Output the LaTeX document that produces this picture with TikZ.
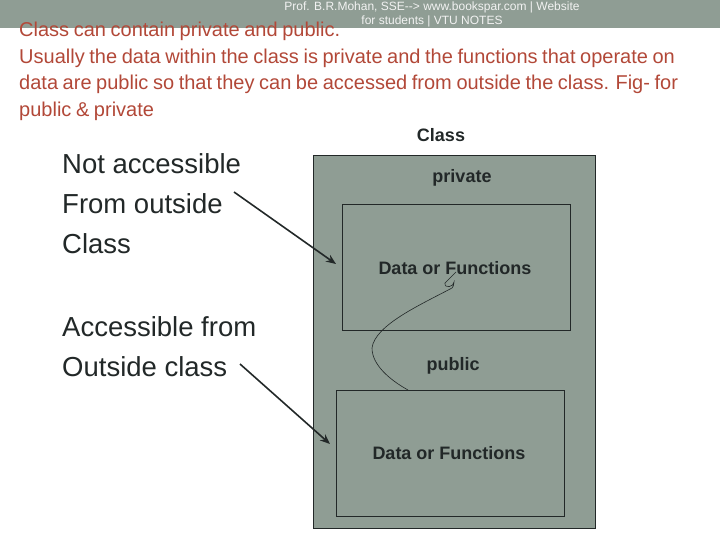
\documentclass[tikz,border=0pt]{standalone}
\usepackage{fontspec}
\setmainfont{Liberation Sans}
\usetikzlibrary{arrows.meta}
\definecolor{sage}{RGB}{143,157,148}
\definecolor{redtext}{RGB}{178,72,56}
\definecolor{ink}{RGB}{34,40,40}
\newcommand{\tightspacing}{\spaceskip=4.6pt\relax}
\tikzset{
  redline/.style={anchor=base west, inner sep=0pt, text=redtext, font=\fontsize{20}{24}\selectfont},
  leftline/.style={anchor=base west, inner sep=0pt, text=ink, font=\fontsize{27.5}{30}\selectfont},
  boldlabel/.style={anchor=base, inner sep=0pt, text=ink, font=\fontsize{18}{22}\selectfont\bfseries},
  banner/.style={anchor=base, inner sep=0pt, text=white!95!black, font=\fontsize{12}{13}\selectfont},
  box/.style={draw=ink, line width=1pt, fill=sage},
  pointer/.style={draw=ink, line width=1.6pt, -{Stealth[length=10pt,width=8pt]}}
}
\begin{document}
\begin{tikzpicture}[x=1pt,y=-1pt]
\useasboundingbox (0,0) rectangle (720,540);
\fill[sage] (0,0) rectangle (720,28);
\node[banner] (b1) at (432,11) {Prof. B.R.Mohan, SSE{-}{-}> www.bookspar.com | Website};
\node[banner] (b2) at (432,25) {for students | VTU NOTES};
\node[redline] (r1) at (19,37) {\tightspacing Class can contain private and public.};
\node[redline] (r2) at (19,63.5) {\tightspacing Usually the data within the class is private and the functions that operate on};
\node[redline] (r3) at (19,90) {\tightspacing data are public so that they can be accessed from outside the class. Fig- for};
\node[redline] (r4) at (19,116.5) {\tightspacing public \& private};
% outer class box
\node[boldlabel] (cls) at (441,142) {Class};
\draw[box] (313,156) rectangle (595,528);
\draw[draw=ink, line width=0.8pt] (342,204) rectangle (570,330);
\draw[draw=ink, line width=0.8pt] (336,390) rectangle (564,516);
\node[boldlabel] (priv) at (462,183) {private};
\node[boldlabel] (d1) at (455,274) {Data or Functions};
\node[boldlabel] (pub) at (453,370) {public};
\node[boldlabel] (d2) at (449,459) {Data or Functions};
% wavy link
\coordinate (w0) at (456,272);
\coordinate (w1) at (408,390);
\draw[ink, line width=0.6pt] (w0) -- (445,283) .. controls (444,289) and (454,287) .. (454,282)
  .. controls (454,285) and (453,287) .. (452,288)
  .. controls (420,305) and (375,325) .. (372,348)
  .. controls (372,365) and (390,380) .. (w1);
% left texts
\node[leftline] (n1) at (62,174) {Not accessible};
\node[leftline] (n2) at (62,214) {From outside};
\node[leftline] (n3) at (62,254) {Class};
\node[leftline] (a1) at (62,336) {Accessible from};
\node[leftline] (a2) at (62,376) {Outside class};
\coordinate (p1s) at (234,192);
\coordinate (p1e) at (336,264);
\coordinate (p2s) at (240,364);
\coordinate (p2e) at (330,444);
\draw[pointer] (p1s) -- (p1e);
\draw[pointer] (p2s) -- (p2e);
\end{tikzpicture}
\end{document}
